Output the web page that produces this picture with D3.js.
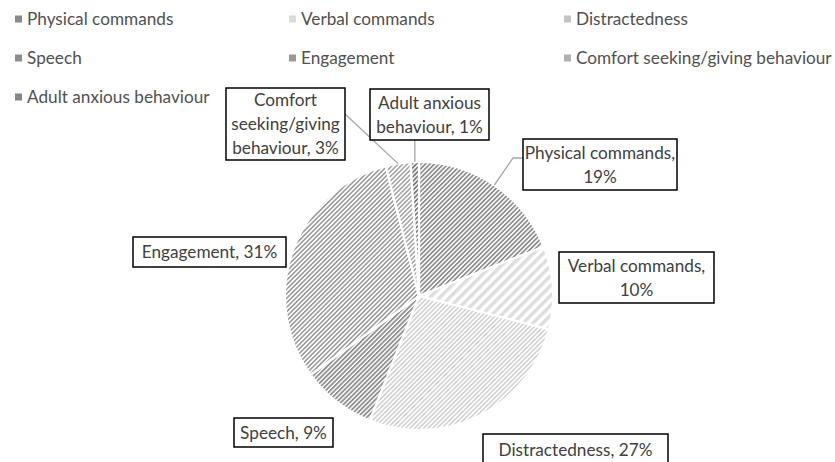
<!DOCTYPE html>
<html>
<head>
<meta charset="utf-8">
<script src="https://cdn.jsdelivr.net/npm/d3@7"></script>
<style>
  html, body { margin: 0; padding: 0; background: #fff; }
  svg { display: block; }
  text { font-family: Lato, "Open Sans", sans-serif; }
</style>
</head>
<body>
<svg id="chart" width="835" height="462"></svg>
<script>
// ---- data ----
const categories = ["Physical commands", "Verbal commands", "Distractedness", "Speech", "Engagement", "Comfort seeking/giving behaviour", "Adult anxious behaviour"];
const values = [19, 10, 27, 9, 31, 3, 1];
const labelLines = [
  ["Physical commands,", "19%"],
  ["Verbal commands,", "10%"],
  ["Distractedness, 27%"],
  ["Speech, 9%"],
  ["Engagement, 31%"],
  ["Comfort", "seeking/giving", "behaviour, 3%"],
  ["Adult anxious", "behaviour, 1%"]
];

// ---- styles ----
const patternStyles = [
  { stripe: "#8c8c8c", bg: "#ffffff", period: 3.2, width: 1.7, mark: "#8a8a8a" },
  { stripe: "#dedede", bg: "#ffffff", period: 7, width: 3.5, mark: "#dadada" },
  { stripe: "#cfcfcf", bg: "#ffffff", period: 3.2, width: 1.5, mark: "#c4c4c4" },
  { stripe: "#8f8f8f", bg: "#ffffff", period: 3.2, width: 1.8, mark: "#8e8e8e" },
  { stripe: "#9c9c9c", bg: "#ffffff", period: 3.2, width: 1.6, mark: "#9a9a9a" },
  { stripe: "#a8a8a8", bg: "#ffffff", period: 3.2, width: 1.6, mark: "#b0b0b0" },
  { stripe: "#7a7a7a", bg: "#ffffff", period: 3.2, width: 1.8, mark: "#858585" }
];
// label box layout [x, y, w, h]
const boxLayout = [
  [523, 139, 154, 51],
  [559, 252, 155, 51],
  [483, 434, 185, 31],
  [234, 418, 99, 29],
  [133, 237, 153, 30],
  [226, 88, 119, 72],
  [370, 89, 119, 51]
];

const svg = d3.select("#chart");
const defs = svg.append("defs");
patternStyles.forEach((p, i) => {
  const pat = defs.append("pattern")
    .attr("id", "pat" + i)
    .attr("patternUnits", "userSpaceOnUse")
    .attr("width", p.period).attr("height", p.period)
    .attr("patternTransform", "rotate(45)");
  pat.append("rect").attr("width", p.period).attr("height", p.period).attr("fill", p.bg);
  pat.append("rect").attr("width", p.width).attr("height", p.period).attr("fill", p.stripe);
});

// ---- legend ----
const colX = d3.scaleOrdinal().domain([0, 1, 2]).range([15, 289, 564]);
const rowY = d3.scaleLinear().domain([0, 2]).range([19, 97]);
const legend = svg.append("g");
categories.forEach((c, i) => {
  const g = legend.append("g").attr("transform", `translate(${colX(i % 3)},${rowY(Math.floor(i / 3))})`);
  g.append("rect").attr("x", 0).attr("y", -3.5).attr("width", 7).attr("height", 7)
    .attr("fill", patternStyles[i].mark);
  g.append("text").attr("x", 12).attr("y", 0).attr("dy", "0.35em")
    .attr("font-size", 17.2).attr("fill", "#505050").text(c);
});

// ---- pie ----
const cx = 419, cy = 296, r = 134;
const pie = d3.pie().sort(null).value(d => d);
const arc = d3.arc().innerRadius(0).outerRadius(r);
const arcs = pie(values);
const gPie = svg.append("g").attr("transform", `translate(${cx},${cy})`);
gPie.selectAll("path").data(arcs).enter().append("path")
  .attr("d", arc)
  .attr("fill", (d, i) => `url(#pat${i})`)
  .attr("stroke", "#fff").attr("stroke-width", 2.2).attr("stroke-linejoin", "round");

// ---- leader lines ----
function edgePoint(i, frac) {
  const a = arcs[i];
  const ang = a.startAngle + (a.endAngle - a.startAngle) * frac;
  return [cx + r * Math.sin(ang), cy - r * Math.cos(ang)];
}
const leaders = svg.append("g").attr("fill", "none").attr("stroke", "#a6a6a6").attr("stroke-width", 1.3);
{
  const p = edgePoint(0, 0.5);
  leaders.append("polyline").attr("points", [[523, 158], [513, 158], p].map(d => d.join(",")).join(" "));
}
{
  const p = edgePoint(5, 0.5);
  leaders.append("polyline").attr("points", [[345, 114], p].map(d => d.join(",")).join(" "));
}
{
  const p = edgePoint(6, 0.5);
  leaders.append("polyline").attr("points", [[p[0], 140], p].map(d => d.join(",")).join(" "));
}

// ---- label boxes ----
const lblG = svg.append("g");
labelLines.forEach((lines, i) => {
  const [x, y, w, h] = boxLayout[i];
  const g = lblG.append("g");
  g.append("rect").attr("x", x).attr("y", y).attr("width", w).attr("height", h)
    .attr("fill", "#fff").attr("stroke", "#000").attr("stroke-width", 1.5);
  const lh = 24;
  const startY = y + h / 2 - (lines.length - 1) * lh / 2;
  lines.forEach((t, j) => {
    g.append("text").attr("x", x + w / 2).attr("y", startY + j * lh).attr("dy", "0.35em")
      .attr("text-anchor", "middle").attr("font-size", 17.2).attr("fill", "#404040").text(t);
  });
});
</script>
</body>
</html>
